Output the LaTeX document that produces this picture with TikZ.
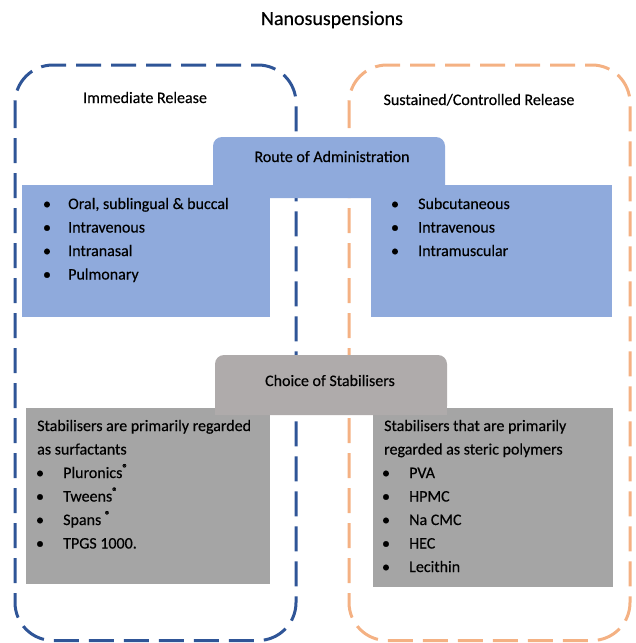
\documentclass[tikz,border=0pt]{standalone}
\usepackage{fontspec}
\setmainfont{Carlito}[FakeBold=0.4]
\definecolor{bluefill}{HTML}{8FAADC}
\definecolor{greyhead}{HTML}{AFABAB}
\definecolor{greybox}{HTML}{A5A5A5}
\definecolor{bluedash}{HTML}{2F5597}
\definecolor{orangedash}{HTML}{F4B183}
\begin{document}
\begin{tikzpicture}[x=1pt,y=-1pt,
  txt/.style={anchor=base west, inner sep=0pt, font=\fontsize{16}{19}\selectfont, text=black},
  ctxt/.style={anchor=base, inner sep=0pt, font=\fontsize{16}{19}\selectfont, text=black},
  bul/.style={anchor=base, inner sep=0pt, font=\fontsize{16}{19}\selectfont, text=black},
  dashbox/.style={line width=3pt, rounded corners=38pt, dash pattern=on 25pt off 10pt}]
\useasboundingbox (0,0) rectangle (636,643);
% dashed group outlines
\draw[dashbox, bluedash] (15,65) rectangle (296,640.5);
\draw[dashbox, orangedash] (349,65) rectangle (630,640.5);
% title and group labels
\node[ctxt, font=\fontsize{20}{24}\selectfont] (title) at (332,25) {Nanosuspensions};
\node[ctxt] (imm) at (145,103) {Immediate Release};
\node[ctxt] (sus) at (479,105) {Sustained/Controlled Release};
% route of administration
\fill[bluefill] (22,185) rectangle (270,317);
\fill[bluefill] (371,185) rectangle (612,317);
\fill[bluefill, rounded corners=9pt] (213,137) rectangle (445,198);
\fill[bluefill] (213,185) rectangle (445,198);
\node[ctxt] (route) at (332,162) {Route of Administration};
\node[bul] (lb1) at (47,209) {•};
\node[txt] (l1) at (68,209) {Oral, sublingual \& buccal};
\node[bul] (lb2) at (47,232.5) {•};
\node[txt] (l2) at (68,232.5) {Intravenous};
\node[bul] (lb3) at (47,256) {•};
\node[txt] (l3) at (68,256) {Intranasal};
\node[bul] (lb4) at (47,279.5) {•};
\node[txt] (l4) at (68,279.5) {Pulmonary};
\node[bul] (rb1) at (395,209) {•};
\node[txt] (r1) at (418,209) {Subcutaneous};
\node[bul] (rb2) at (395,232.5) {•};
\node[txt] (r2) at (418,232.5) {Intravenous};
\node[bul] (rb3) at (395,256) {•};
\node[txt] (r3) at (418,256) {Intramuscular};
% choice of stabilisers
\fill[greybox] (26,408) rectangle (270,584);
\fill[greybox] (373,408) rectangle (613,587);
\fill[greyhead, rounded corners=9pt] (215,355) rectangle (447,415);
\fill[greyhead] (215,400) rectangle (447,415);
\node[ctxt] (choice) at (330,386) {Choice of Stabilisers};
\node[txt] (gl1) at (37,431) {Stabilisers are primarily regarded};
\node[txt] (gl2) at (37,454.5) {as surfactants};
\node[bul] (glb3) at (40,478) {•};
\node[txt] (gl3) at (63,478) {Pluronics\textsuperscript{®}};
\node[bul] (glb4) at (40,501.5) {•};
\node[txt] (gl4) at (63,501.5) {Tweens\textsuperscript{®}};
\node[bul] (glb5) at (40,525) {•};
\node[txt] (gl5) at (63,525) {Spans \textsuperscript{®}};
\node[bul] (glb6) at (40,548.5) {•};
\node[txt] (gl6) at (63,548.5) {TPGS 1000.};
\node[txt] (gr1) at (384,431) {Stabilisers that are primarily};
\node[txt] (gr2) at (384,454.5) {regarded as steric polymers};
\node[bul] (grb3) at (386,478) {•};
\node[txt] (gr3) at (409,478) {PVA};
\node[bul] (grb4) at (386,501.5) {•};
\node[txt] (gr4) at (409,501.5) {HPMC};
\node[bul] (grb5) at (386,525) {•};
\node[txt] (gr5) at (409,525) {Na CMC};
\node[bul] (grb6) at (386,548.5) {•};
\node[txt] (gr6) at (409,548.5) {HEC};
\node[bul] (grb7) at (386,572) {•};
\node[txt] (gr7) at (409,572) {Lecithin};
\end{tikzpicture}
\end{document}
